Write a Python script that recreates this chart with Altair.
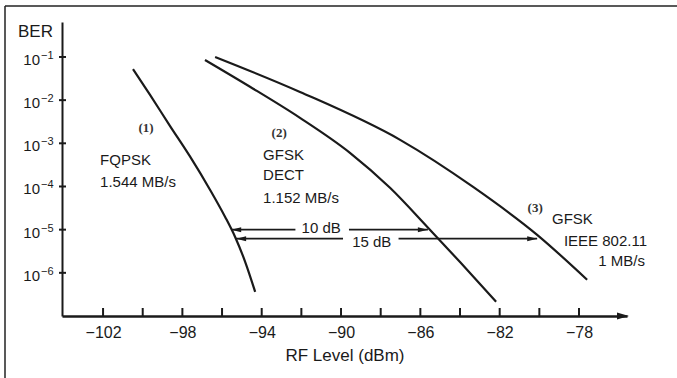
import altair as alt
import pandas as pd

# ---- data (BER given as log10 exponent) ----
c1_rf = [-100.49, -99.63, -98.62, -97.61, -96.60, -95.85, -95.34, -94.83, -94.33]
c1_exp = [-1.28, -1.88, -2.60, -3.31, -4.08, -4.70, -5.17, -5.75, -6.44]
c2_rf = [-96.86, -94.59, -92.07, -89.55, -87.53, -85.66, -84.00, -82.18]
c2_exp = [-1.07, -1.69, -2.41, -3.22, -4.03, -4.93, -5.75, -6.67]
c3_rf = [-96.35, -92.07, -87.02, -83.34, -80.11, -77.59]
c3_exp = [-1.00, -1.81, -2.92, -4.01, -5.12, -6.16]

x_ticks = list(range(-102, -77, 2))
x_label_values = [-102, -98, -94, -90, -86, -82, -78]
y_ticks = [-1, -2, -3, -4, -5, -6]
y_exponents = ["−1", "−2", "−3", "−4", "−5", "−6"]

arrow_text = ["10 dB", "15 dB"]
arrow_y = [-5.0, -5.21]
arrow_from = [-95.54, -95.29]
arrow_to = [-85.62, -80.11]
gap_from = [-92.3, -89.9]
gap_to = [-89.6, -87.1]
text_x = [-91.0, -88.45]
text_y = [-4.96, -5.28]

num_labels = ["(1)", "(2)", "(3)"]
num_x = [-99.83, -93.12, -80.21]
num_y = [-2.64, -2.76, -4.50]

left_text = ["FQPSK", "1.544 MB/s", "GFSK", "DECT", "1.152 MB/s", "GFSK"]
left_x = [-102.15, -102.15, -93.93, -93.93, -93.93, -79.36]
left_y = [-3.38, -3.89, -3.27, -3.73, -4.26, -4.75]
right_text = ["IEEE 802.11", "1 MB/s"]
right_x = [-74.57, -74.67]
right_y = [-5.26, -5.72]

W, H = 565, 294
INK = "#1a1a1a"
FONT = "Liberation Sans"

curves = pd.DataFrame({
    "rf": c1_rf + c2_rf + c3_rf,
    "ber": c1_exp + c2_exp + c3_exp,
    "curve": ["1"] * len(c1_rf) + ["2"] * len(c2_rf) + ["3"] * len(c3_rf),
})

xs = alt.Scale(domain=[-104.07, -75.58], nice=False, zero=False)
ys = alt.Scale(domain=[-7, -0.19], nice=False, zero=False)

x_axis = alt.Axis(
    values=x_label_values, ticks=False, tickSize=0, grid=False,
    labelExpr="'−' + abs(datum.value)",
    labelFontSize=16, labelFont=FONT, labelColor=INK, labelPadding=8,
    domainColor=INK, domainWidth=2.5,
    title="RF Level (dBm)", titleFontSize=17, titleFont=FONT,
    titleFontWeight="normal", titleColor=INK, titlePadding=7)
y_axis = alt.Axis(
    values=y_ticks, ticks=False, tickSize=0, grid=False, labels=False,
    domainColor=INK, domainWidth=2,
    title="BER", titleAngle=0, titleX=-27, titleY=9, titleAlign="center",
    titleBaseline="middle", titleFontSize=17, titleFont=FONT,
    titleFontWeight="normal", titleColor=INK)


def X(field):
    return alt.X(field, scale=xs, axis=x_axis)


def Y(field):
    return alt.Y(field, scale=ys, axis=y_axis)


lines = alt.Chart(curves).mark_line(color=INK, strokeWidth=2.2, interpolate="monotone").encode(
    x=X("rf:Q"), y=Y("ber:Q"), detail="curve:N")

xt = alt.Chart(pd.DataFrame({"t": x_ticks})).mark_rule(color=INK, strokeWidth=2).encode(
    x=X("t:Q"), y=alt.value(H - 8), y2=alt.value(H))
ydf = pd.DataFrame({"t": y_ticks, "e": y_exponents})
yt = alt.Chart(ydf).mark_rule(color=INK, strokeWidth=2).encode(
    y=Y("t:Q"), x=alt.value(-3), x2=alt.value(4))
ylab_base = alt.Chart(ydf).mark_text(fontSize=15, font=FONT, color=INK, align="right",
                                     baseline="middle", dy=3).encode(
    y=Y("t:Q"), x=alt.value(-22), text=alt.value("10"))
ylab_exp = alt.Chart(ydf).mark_text(fontSize=11, font=FONT, color=INK, align="left",
                                    baseline="middle", dy=-1).encode(
    y=Y("t:Q"), x=alt.value(-21), text="e:N")

axis_arrow = alt.Chart(pd.DataFrame({"a": [0]})).mark_point(
    shape="M0,0L-2,-0.6L-2,0.6Z", filled=True, color=INK, opacity=1, size=144
).encode(x=alt.value(W + 2), y=alt.value(H))

arr = pd.DataFrame({"label": arrow_text, "y": arrow_y, "x0": arrow_from, "x1": arrow_to,
                    "g0": gap_from, "g1": gap_to, "tx": text_x, "ty": text_y})
seg_left = alt.Chart(arr).mark_rule(color=INK, strokeWidth=1.8).encode(
    x=X("x0:Q"), x2="g0:Q", y=Y("y:Q"))
seg_right = alt.Chart(arr).mark_rule(color=INK, strokeWidth=1.8).encode(
    x=X("g1:Q"), x2="x1:Q", y=Y("y:Q"))
head_left = alt.Chart(arr).mark_point(shape="M0,0L2,-0.5L2,0.5Z", filled=True, color=INK,
                                       opacity=1, size=100).encode(x=X("x0:Q"), y=Y("y:Q"))
head_right = alt.Chart(arr).mark_point(shape="M0,0L-2,-0.5L-2,0.5Z", filled=True, color=INK,
                                        opacity=1, size=100).encode(x=X("x1:Q"), y=Y("y:Q"))
arr_text = alt.Chart(arr).mark_text(fontSize=15, font=FONT, color=INK, baseline="middle").encode(
    x=X("tx:Q"), y=Y("ty:Q"), text="label:N")

nums = alt.Chart(pd.DataFrame({"t": num_labels, "x": num_x, "y": num_y})).mark_text(
    fontSize=13, font="Liberation Serif", fontWeight="bold", color="#333333", baseline="middle"
).encode(x=X("x:Q"), y=Y("y:Q"), text="t:N")

ltext = alt.Chart(pd.DataFrame({"t": left_text, "x": left_x, "y": left_y})).mark_text(
    fontSize=15, font=FONT, color=INK, align="left", baseline="middle"
).encode(x=X("x:Q"), y=Y("y:Q"), text="t:N")
rtext = alt.Chart(pd.DataFrame({"t": right_text, "x": right_x, "y": right_y})).mark_text(
    fontSize=15, font=FONT, color=INK, align="right", baseline="middle"
).encode(x=X("x:Q"), y=Y("y:Q"), text="t:N")

frame_top = alt.Chart(pd.DataFrame({"a": [0]})).mark_rule(color="#222222", strokeWidth=1.5).encode(
    x=alt.value(-57), x2=alt.value(640), y=alt.value(-16))
frame_left = alt.Chart(pd.DataFrame({"a": [0]})).mark_rule(color="#222222", strokeWidth=1.5).encode(
    x=alt.value(-57), y=alt.value(-16), y2=alt.value(380))

chart = alt.layer(
    lines, xt, yt, ylab_base, ylab_exp, axis_arrow, seg_left, seg_right, head_left, head_right,
    arr_text, nums, ltext, rtext, frame_top, frame_left
).properties(
    width=W, height=H,
    autosize=alt.AutoSizeParams(type="none"),
    padding={"left": 62, "top": 22, "right": 677 - 62 - W, "bottom": 378 - 22 - H},
    background="white",
).configure_view(stroke=None)

chart.save("out.html", embed_options={"renderer": "svg", "actions": False})
